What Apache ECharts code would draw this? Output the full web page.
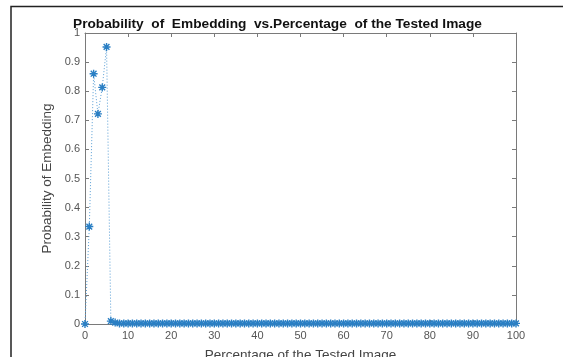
<!DOCTYPE html>
<html>
<head>
<meta charset="utf-8">
<script src="https://cdn.jsdelivr.net/npm/echarts@6/dist/echarts.min.js"></script>
<style>
html,body{margin:0;padding:0;background:#fff;}
#c{width:563px;height:357px;}
</style>
</head>
<body>
<div id="c"></div>
<script>
var titleText = 'Probability  of  Embedding  vs.Percentage  of the Tested Image';
var xLabel = 'Percentage of the Tested Image';
var yLabel = 'Probability of Embedding';
var percentages = [0,1,2,3,4,5,6,7,8,9,10,11,12,13,14,15,16,17,18,19,20,21,22,23,24,25,26,27,28,29,30,31,32,33,34,35,36,37,38,39,40,41,42,43,44,45,46,47,48,49,50,51,52,53,54,55,56,57,58,59,60,61,62,63,64,65,66,67,68,69,70,71,72,73,74,75,76,77,78,79,80,81,82,83,84,85,86,87,88,89,90,91,92,93,94,95,96,97,98,99,100];
var probabilities = [0,0.335,0.86,0.722,0.813,0.952,0.01,0.005,0.002,0.002,0.002,0.002,0.002,0.002,0.002,0.002,0.002,0.002,0.002,0.002,0.002,0.002,0.002,0.002,0.002,0.002,0.002,0.002,0.002,0.002,0.002,0.002,0.002,0.002,0.002,0.002,0.002,0.002,0.002,0.002,0.002,0.002,0.002,0.002,0.002,0.002,0.002,0.002,0.002,0.002,0.002,0.002,0.002,0.002,0.002,0.002,0.002,0.002,0.002,0.002,0.002,0.002,0.002,0.002,0.002,0.002,0.002,0.002,0.002,0.002,0.002,0.002,0.002,0.002,0.002,0.002,0.002,0.002,0.002,0.002,0.002,0.002,0.002,0.002,0.002,0.002,0.002,0.002,0.002,0.002,0.002,0.002,0.002,0.002,0.002,0.002,0.002,0.002,0.002,0.002,0.002];

var points = percentages.map(function(x, i){ return [x, probabilities[i]]; });
var chart = echarts.init(document.getElementById('c'));
var axisGray = '#7a7a7a';
var labelGray = '#555';
var font = 'Liberation Sans, Arial, sans-serif';
var star = 'path://M0,-5L0,5M-5,0L5,0M-3.6,-3.6L3.6,3.6M-3.6,3.6L3.6,-3.6';
chart.setOption({
  animation: false,
  backgroundColor: '#fff',
  title: {
    text: titleText,
    left: 68, top: 12,
    textStyle: {fontFamily: font, fontSize: 13.7, fontWeight: 'bold', color: '#111'}
  },
  grid: {left: 85, right: 47, top: 33, bottom: 33, outerBoundsMode: 'none', containLabel: false},
  xAxis: [{
    type: 'value', min: 0, max: 100, interval: 10,
    name: xLabel, nameLocation: 'middle', nameGap: 24,
    nameTextStyle: {fontFamily: font, fontSize: 13.5, color: '#444'},
    axisLine: {onZero: false, lineStyle: {color: axisGray, width: 1}},
    axisTick: {inside: true, length: 4, lineStyle: {color: axisGray}},
    axisLabel: {fontFamily: font, fontSize: 11, color: labelGray, margin: 6},
    splitLine: {show: false}
  }, {
    type: 'value', min: 0, max: 100, interval: 10, position: 'top',
    axisLine: {onZero: false, lineStyle: {color: axisGray, width: 1}},
    axisTick: {inside: true, length: 4, lineStyle: {color: axisGray}},
    axisLabel: {show: false}, splitLine: {show: false}
  }],
  yAxis: [{
    type: 'value', min: 0, max: 1, interval: 0.1,
    name: yLabel, nameLocation: 'middle', nameGap: 30,
    nameTextStyle: {fontFamily: font, fontSize: 13.5, color: '#444'},
    axisLine: {onZero: false, lineStyle: {color: axisGray, width: 1}},
    axisTick: {inside: true, length: 4, lineStyle: {color: axisGray}},
    axisLabel: {fontFamily: font, fontSize: 11, color: labelGray, margin: 5,
      formatter: function(v){ return String(Math.round(v*10)/10); }},
    splitLine: {show: false}
  }, {
    type: 'value', min: 0, max: 1, interval: 0.1, position: 'right',
    axisLine: {onZero: false, lineStyle: {color: axisGray, width: 1}},
    axisTick: {inside: true, length: 4, lineStyle: {color: axisGray}},
    axisLabel: {show: false}, splitLine: {show: false}
  }],
  graphic: [{
    type: 'polyline', silent: true,
    shape: {points: [[11, 400], [11, 6.5], [600, 6.5]]},
    style: {stroke: '#222', lineWidth: 1.5, fill: null}
  }],
  series: [{
    type: 'line', data: points,
    symbol: star, symbolSize: 8,
    itemStyle: {color: 'rgba(0,0,0,0)', borderColor: '#2a7fc4', borderWidth: 1.4},
    lineStyle: {color: '#5a9fd6', width: 1, type: [1, 2]},
    clip: false
  }]
});
</script>
</body>
</html>
